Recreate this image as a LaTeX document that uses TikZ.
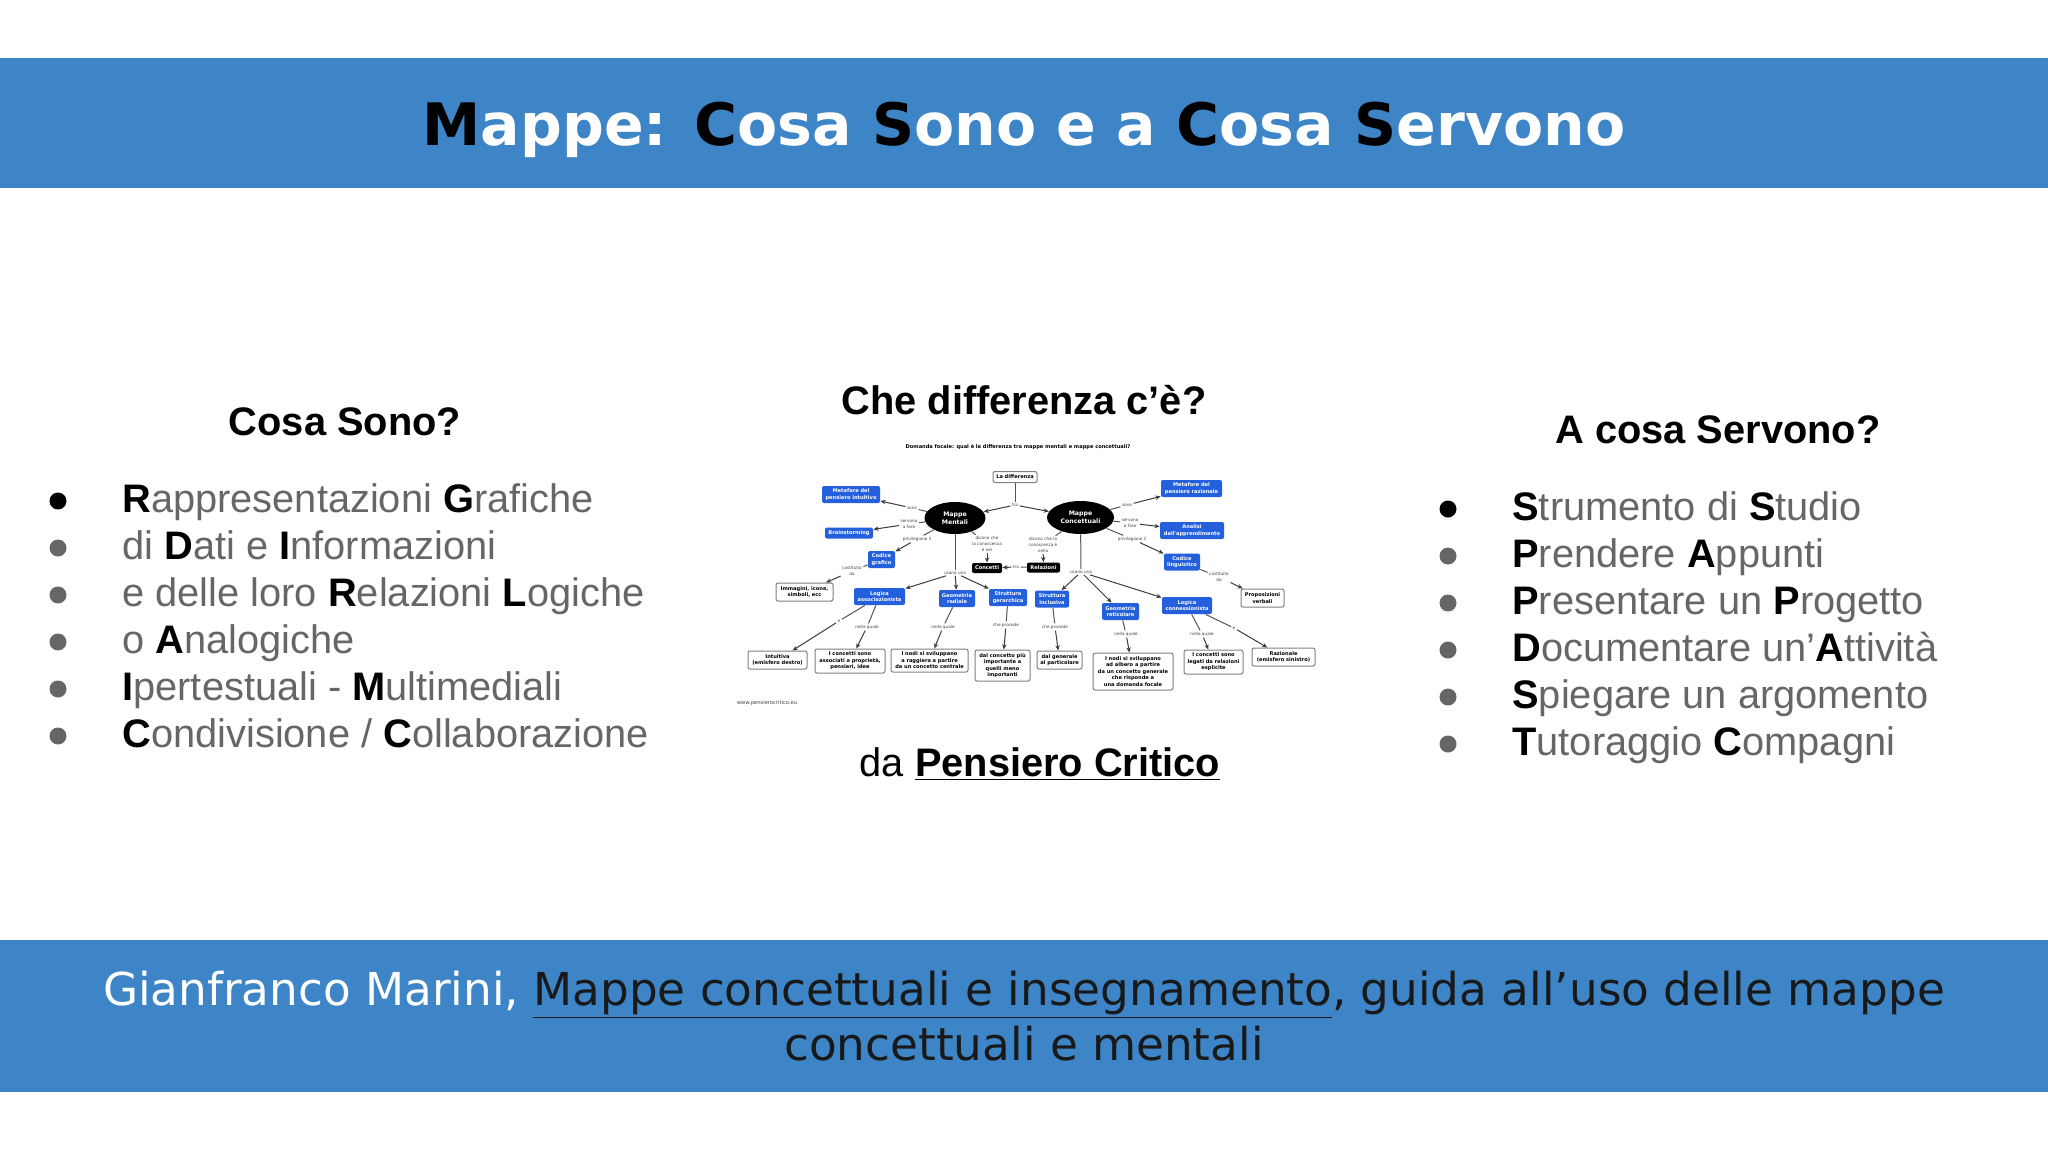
\documentclass[tikz,border=0pt]{standalone}
\usepackage{fontspec}
\setmainfont{Liberation Sans}
\newfontfamily\dejavu{DejaVu Sans}
\usetikzlibrary{arrows.meta,shapes.geometric}
\definecolor{band}{HTML}{3D85C6}
\definecolor{bodygray}{HTML}{666666}
\definecolor{mapblue}{HTML}{2460DC}
\definecolor{mapline}{HTML}{555555}
\newcommand{\bk}[1]{\textcolor{black}{\textbf{#1}}}
\tikzset{
  sz/.style 2 args={minimum width=#1*0.5pt,minimum height=#2*0.5pt},
  heading/.style={font=\fontsize{19.9}{23}\selectfont\bfseries,text=black,anchor=base,inner sep=0pt},
  item/.style={font=\fontsize{19.9}{23}\selectfont,text=bodygray,anchor=base west,inner sep=0pt},
  dot/.style={circle,fill=bodygray,minimum size=8.5pt,inner sep=0pt},
  footline/.style={anchor=base,inner sep=0pt,text=black!90,font=\dejavu\fontsize{22.65}{27.5}\selectfont},
  mapfont/.style={font=\dejavu\bfseries\fontsize{2.55}{3.25}\selectfont,align=center,inner sep=0pt},
  bluebox/.style={mapfont,fill=mapblue,text=white,rounded corners=1pt},
  whitebox/.style={mapfont,draw=gray,line width=0.5pt,fill=white,text=black,rounded corners=1pt},
  blackbox/.style={mapfont,fill=black,text=white,rounded corners=1pt},
  oval/.style={ellipse,fill=black,text=white,align=center,inner sep=0pt,font=\dejavu\bfseries\fontsize{3.1}{4}\selectfont},
  lab/.style={font=\dejavu\fontsize{2.1}{3}\selectfont,text=black!75,align=center,inner sep=0.6pt},
  link/.style={draw=mapline,line width=0.5pt},
  arr/.style={draw=mapline!70!black,line width=0.5pt,-{Stealth[length=2.6pt,width=2.2pt]}}
}
\begin{document}
\begin{tikzpicture}[x=0.5pt,y=-0.5pt]
\useasboundingbox (0,0) rectangle (2048,1152);
\fill[white] (0,0) rectangle (2048,1152);
\fill[band] (0,58) rectangle (2048,188);
\fill[band] (0,940) rectangle (2048,1092);

\node[anchor=base,inner sep=0pt,text=white,font=\dejavu\bfseries\fontsize{29.25}{35}\selectfont] (title) at (1024,145)
 {\textcolor{black}{M}appe: \textcolor{black}{C}osa \textcolor{black}{S}ono e a \textcolor{black}{C}osa \textcolor{black}{S}ervono};

% left column
\node[heading] (h1) at (345,435) {Cosa Sono?};
\node[dot,fill=black] (b1) at (58,501) {};
\node[dot] (b2) at (58,548) {};
\node[dot] (b3) at (58,595) {};
\node[dot] (b4) at (58,642) {};
\node[dot] (b5) at (58,689) {};
\node[dot] (b6) at (58,736) {};
\node[item] (l1) at (122,512) {\bk{R}appresentazioni \bk{G}rafiche};
\node[item] (l2) at (122,559) {di \bk{D}ati e \bk{I}nformazioni};
\node[item] (l3) at (122,606) {e delle loro \bk{R}elazioni \bk{L}ogiche};
\node[item] (l4) at (122,653) {o \bk{A}nalogiche};
\node[item] (l5) at (122,700) {\bk{I}pertestuali - \bk{M}ultimediali};
\node[item] (l6) at (122,747) {\bk{C}ondivisione / \bk{C}ollaborazione};

% right column
\node[heading] (h3) at (1718,443) {A cosa Servono?};
\node[dot,fill=black] (c1) at (1448,509) {};
\node[dot] (c2) at (1448,556) {};
\node[dot] (c3) at (1448,603) {};
\node[dot] (c4) at (1448,650) {};
\node[dot] (c5) at (1448,697) {};
\node[dot] (c6) at (1448,744) {};
\node[item] (r1) at (1512,520) {\bk{S}trumento di \bk{S}tudio};
\node[item] (r2) at (1512,567) {\bk{P}rendere \bk{A}ppunti};
\node[item] (r3) at (1512,614) {\bk{P}resentare un \bk{P}rogetto};
\node[item] (r4) at (1512,661) {\bk{D}ocumentare un’\bk{A}ttività};
\node[item] (r5) at (1512,708) {\bk{S}piegare un argomento};
\node[item] (r6) at (1512,755) {\bk{T}utoraggio \bk{C}ompagni};

% centre
\node[heading] (h2) at (1024,414) {Che differenza c’è?};
\node[anchor=base,inner sep=0pt,text=black,font=\fontsize{19.9}{23}\selectfont] (src) at (1040,776) {da \textbf{\underline{Pensiero Critico}}};

% bottom band
\node[footline] (foot1) at (1024,1005)
 {\textcolor{white}{Gianfranco Marini, }\underline{Mappe concettuali e insegnamento}, guida all’uso delle mappe};
\node[footline] (foot2) at (1024,1060) {concettuali e mentali};

% map
\node[mapfont,text=black] (q) at (1018,447) {Domanda focale: qual è la differenza tra mappe mentali e mappe concettuali?};
\node[lab,inner sep=0pt,font=\dejavu\fontsize{2.6}{3}\selectfont] (www) at (767,703) {www.pensierocritico.eu};

\node[whitebox,sz={44}{11}] (diff) at (1015,477) {La differenza};
\node[oval,sz={61}{32}] (mm) at (955,518) {Mappe\\Mentali};
\node[oval,sz={67}{33}] (mc) at (1080.5,517.5) {Mappe\\Concettuali};

\node[bluebox,sz={58}{17}] (mi) at (851,494.5) {Metafore del\\pensiero intuitivo};
\node[bluebox,sz={48}{11}] (bs) at (849,533) {Brainstorming};
\node[bluebox,sz={27}{17}] (cg) at (881.5,559.5) {Codice\\grafico};
\node[bluebox,sz={61}{17}] (mr) at (1191.5,488.5) {Metafore del\\pensiero razionale};
\node[bluebox,sz={64}{17}] (aa) at (1192,530.5) {Analisi\\dell'apprendimento};
\node[bluebox,sz={36}{17}] (cl) at (1182,562) {Codice\\linguistico};
\node[blackbox,sz={30}{10}] (con) at (987,568) {Concetti};
\node[blackbox,sz={33}{10}] (rel) at (1043.5,567.5) {Relazioni};

\node[whitebox,sz={57}{18}] (imm) at (804.5,592) {Immagini, icone,\\simboli, ecc};
\node[bluebox,sz={51}{17}] (la) at (879.5,596.5) {Logica\\associazionista};
\node[bluebox,sz={36}{17}] (gr) at (957,598.5) {Geometria\\radiale};
\node[bluebox,sz={38}{17}] (sg) at (1008,597.5) {Struttura\\gerarchica};
\node[bluebox,sz={34}{17}] (si) at (1052,599) {Struttura\\inclusiva};
\node[bluebox,sz={37}{17}] (gt) at (1120.5,611.5) {Geometria\\reticolare};
\node[bluebox,sz={50}{17}] (lc) at (1187,605.5) {Logica\\connessionista};
\node[whitebox,sz={43}{18}] (pv) at (1262.5,598) {Proposizioni\\verbali};

\node[whitebox,sz={59}{18}] (int) at (777.5,660) {Intuitiva\\(emisfero destro)};
\node[whitebox,sz={70}{24}] (cs) at (850,661) {I concetti sono\\associati a proprietà,\\pensieri, idee};
\node[whitebox,sz={77}{23}] (nr) at (929.5,660.5) {I nodi si sviluppano\\a raggiera a partire\\da un concetto centrale};
\node[whitebox,sz={55}{31}] (dc) at (1002.5,665.5) {dal concetto più\\importante a\\quelli meno\\importanti};
\node[whitebox,sz={45}{18}] (dg) at (1059.5,660) {dal generale\\al particolare};
\node[whitebox,sz={80}{37}] (na) at (1133,671.5) {I nodi si sviluppano\\ad albero a partire\\da un concetto generale\\che risponde a\\una domanda focale};
\node[whitebox,sz={59}{24}] (cr) at (1213.5,662) {I concetti sono\\legati da relazioni\\esplicite};
\node[whitebox,sz={63}{18}] (raz) at (1283.5,657) {Razionale\\(emisfero sinistro)};

% link labels
\node[lab] (t1) at (1015,505) {tra};
\node[lab] (t2) at (1016,567) {tra};
\node[lab] (s1) at (912,508) {sono};
\node[lab] (sf1) at (909,524) {servono\\a fare};
\node[lab] (p1) at (917,539) {privilegiano il};
\node[lab] (cd1) at (852,571) {costituito\\da};
\node[lab] (d1) at (987,544) {dicono che\\la conoscenza\\è nei};
\node[lab] (u1) at (955,573) {usano una};
\node[lab] (s2) at (1127,505) {sono};
\node[lab] (sf2) at (1130,523) {servono\\a fare};
\node[lab] (p2) at (1132,539) {privilegiano il};
\node[lab] (cd2) at (1219,577) {costituito\\da};
\node[lab] (d2) at (1043,545) {dicono che la\\conoscenza è\\nella};
\node[lab] (u2) at (1081,572) {usano una};
\node[lab] (e1) at (839,621) {e};
\node[lab] (nq1) at (867,627) {nella quale};
\node[lab] (nq2) at (943,627) {nella quale};
\node[lab] (cp1) at (1006,625) {che procede};
\node[lab] (cp2) at (1055,627) {che procede};
\node[lab] (nq3) at (1126,634) {nella quale};
\node[lab] (nq4) at (1202,634) {nella quale};
\node[lab] (e2) at (1234,628) {e};

% connectors
\draw[link] (diff) -- (t1);
\draw[arr] (t1) -- (mm);
\draw[arr] (t1) -- (mc);
\draw[link] (mm) -- (s1);   \draw[arr] (s1) -- (mi);
\draw[link] (mm) -- (sf1);  \draw[arr] (sf1) -- (bs);
\draw[link] (mm) -- (p1);   \draw[arr] (p1) -- (cg);
\draw[link] (cg) -- (cd1);  \draw[arr] (cd1) -- (imm);
\draw[link] (mm) -- (d1);   \draw[arr] (d1) -- (con);
\draw[link] (mm) -- (u1);
\draw[arr] (u1) -- (la);
\draw[arr] (u1) -- (gr);
\draw[arr] (u1) -- (sg);
\draw[link] (mc) -- (s2);   \draw[arr] (s2) -- (mr);
\draw[link] (mc) -- (sf2);  \draw[arr] (sf2) -- (aa);
\draw[link] (mc) -- (p2);   \draw[arr] (p2) -- (cl);
\draw[link] (cl) -- (cd2);  \draw[arr] (cd2) -- (pv);
\draw[link] (mc) -- (d2);   \draw[arr] (d2) -- (rel);
\draw[link] (rel) -- (t2);  \draw[arr] (t2) -- (con);
\draw[link] (mc) -- (u2);
\draw[arr] (u2) -- (si);
\draw[arr] (u2) -- (gt);
\draw[arr] (u2) -- (lc);
\draw[link] (la) -- (e1);   \draw[arr] (e1) -- (int);
\draw[link] (la) -- (nq1);  \draw[arr] (nq1) -- (cs);
\draw[link] (gr) -- (nq2);  \draw[arr] (nq2) -- (nr);
\draw[link] (sg) -- (cp1);  \draw[arr] (cp1) -- (dc);
\draw[link] (si) -- (cp2);  \draw[arr] (cp2) -- (dg);
\draw[link] (gt) -- (nq3);  \draw[arr] (nq3) -- (na);
\draw[link] (lc) -- (nq4);  \draw[arr] (nq4) -- (cr);
\draw[link] (lc) -- (e2);   \draw[arr] (e2) -- (raz);
\end{tikzpicture}
\end{document}
